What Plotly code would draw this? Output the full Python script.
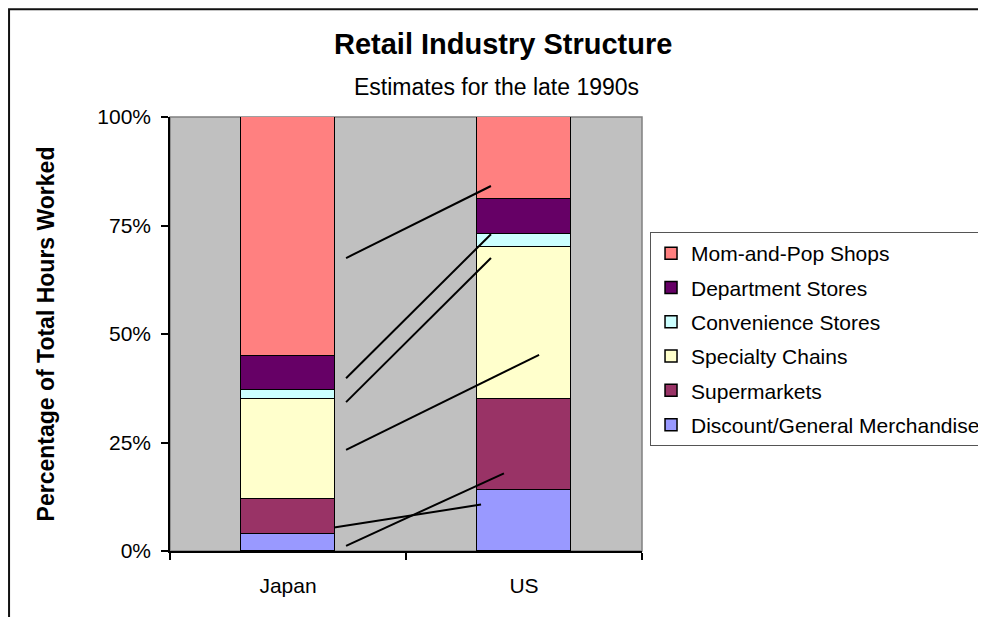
import plotly.graph_objects as go

countries = ['Japan', 'US']
country_x = [0, 1]

series_names = ['Discount/General Merchandise', 'Supermarkets', 'Specialty Chains',
                'Convenience Stores', 'Department Stores', 'Mom-and-Pop Shops']
series_colors = ['#9999FF', '#993366', '#FFFFCC', '#CCFFFF', '#660066', '#FF8080']

# share of total hours worked, percent
japan = [4, 8, 23, 2, 8, 55]
us = [14, 21, 35, 3, 8, 19]

# stray leader lines in the original chart (x in category units, y in percent)
leader_x0 = [0.246, 0.246, 0.246, 0.246, 0.195, 0.246]
leader_y0 = [67.5, 39.8, 34.3, 23.3, 5.4, 1.2]
leader_x1 = [0.860, 0.860, 0.860, 1.064, 0.818, 0.915]
leader_y1 = [84.1, 73.0, 67.5, 45.2, 10.7, 17.9]

FONT = 'Liberation Sans, Arial, sans-serif'

fig = go.Figure()
n = len(series_names)
for i, (name, color, j, u) in enumerate(zip(series_names, series_colors, japan, us)):
    fig.add_trace(go.Bar(
        x=country_x, y=[j, u], name=name, width=0.4,
        marker=dict(color=color, line=dict(color='black', width=1.5)),
        legendgroup=name, legendrank=n - i,
    ))

for x0, y0, x1, y1 in zip(leader_x0, leader_y0, leader_x1, leader_y1):
    fig.add_trace(go.Scatter(
        x=[x0, x1], y=[y0, y1], mode='lines', showlegend=False, hoverinfo='skip',
        line=dict(color='black', width=2),
    ))

# plot area border (gray) and outer chart frame
fig.add_shape(type='rect', xref='paper', yref='paper', x0=0, y0=0, x1=1, y1=1,
              line=dict(color='#808080', width=1.5), layer='below')
fig.add_shape(type='path', xref='paper', yref='paper',
              path='M -0.341,-0.2 L -0.341,1.248 L 1.75,1.248',
              line=dict(color='#111111', width=2))

fig.add_annotation(text='<b>Retail Industry Structure</b>', xref='paper', yref='paper',
                   x=0.7055, y=1.168, xanchor='center', yanchor='middle', showarrow=False,
                   font=dict(size=29, color='black', family=FONT))
fig.add_annotation(text='Estimates for the late 1990s', xref='paper', yref='paper',
                   x=0.691, y=1.069, xanchor='center', yanchor='middle', showarrow=False,
                   font=dict(size=23, color='black', family=FONT))

fig.update_layout(
    width=986, height=617,
    margin=dict(l=162, r=352, t=109, b=74, autoexpand=False),
    barmode='stack', bargap=0,
    paper_bgcolor='white', plot_bgcolor='#C0C0C0',
    font=dict(family=FONT, size=21, color='black'),
    showlegend=True,
    legend=dict(
        x=1.017, y=0.735, xanchor='left', yanchor='top',
        traceorder='grouped', tracegroupgap=4,
        bordercolor='#555555', borderwidth=1, bgcolor='white',
        font=dict(size=21, family=FONT),
    ),
    xaxis=dict(
        range=[-0.5, 1.5], tickvals=country_x, ticktext=countries,
        ticks='', showgrid=False, zeroline=False,
        showline=True, linecolor='black', linewidth=1.5,
        ticklabelstandoff=15, tickfont=dict(size=21),
        minor=dict(tickvals=[-0.5, 0.5, 1.5], ticks='outside', ticklen=7,
                   tickcolor='black', tickwidth=1.5, showgrid=False),
    ),
    yaxis=dict(
        range=[0, 100], tickvals=[0, 25, 50, 75, 100],
        ticktext=['0%', '25%', '50%', '75%', '100%'],
        ticks='outside', ticklen=7, tickcolor='black', tickwidth=1.5,
        showgrid=False, zeroline=False,
        showline=True, linecolor='black', linewidth=1.5,
        ticklabelstandoff=6, tickfont=dict(size=21),
        title=dict(text='<b>Percentage of Total Hours Worked</b>', standoff=36,
                   font=dict(size=23, family=FONT)),
    ),
)

fig.write_html('out.html')
